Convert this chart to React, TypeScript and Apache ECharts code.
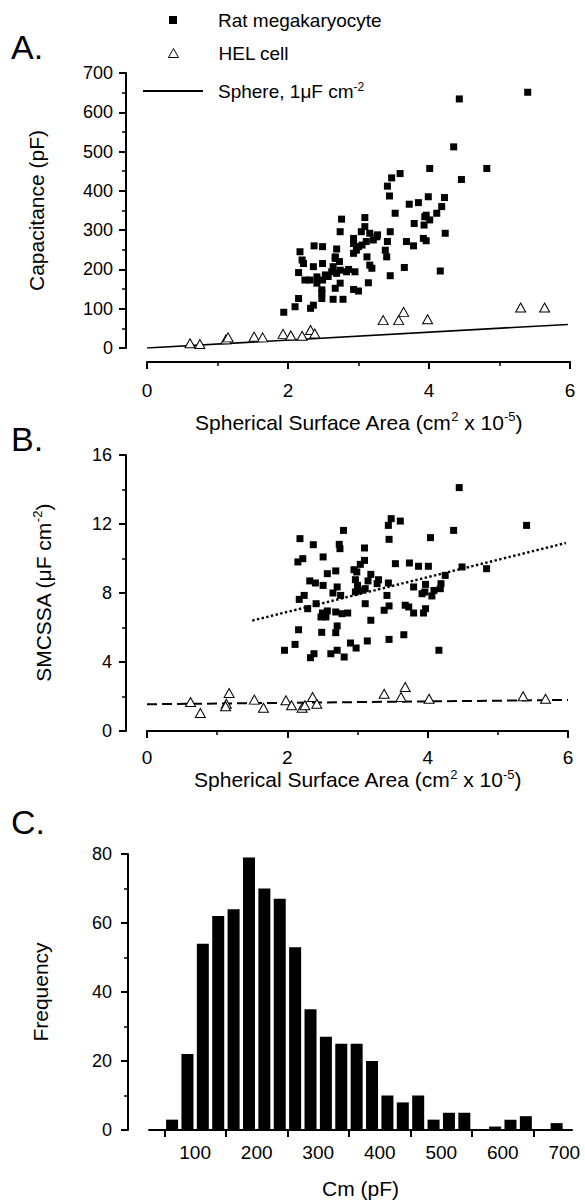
import React, { useEffect, useRef } from 'react';
import * as echarts from 'echarts';

const FONT = '"Liberation Sans", Arial, Helvetica, sans-serif';

// Panel A: spherical surface area (cm2 x 1e-5) vs capacitance (pF)
const ratA: number[][] = [
  [4.43, 634], [5.40, 651], [4.35, 512], [4.01, 457], [4.82, 457], [4.46, 429], [3.59, 444], [3.47, 433],
  [3.41, 412], [3.44, 387], [3.99, 385], [4.22, 383], [3.85, 370], [3.72, 366], [4.18, 360], [3.52, 343],
  [3.96, 338], [4.11, 343], [4.01, 326], [3.79, 317], [3.93, 313], [3.09, 332], [2.76, 328], [2.74, 296],
  [3.09, 309], [3.04, 296], [3.16, 292], [3.27, 288], [3.45, 296], [4.23, 292], [2.93, 279], [2.93, 266],
  [3.00, 258], [3.11, 271], [3.21, 275], [3.41, 271], [3.68, 271], [3.78, 260], [3.96, 273], [2.37, 260],
  [2.49, 258], [2.17, 245], [2.69, 252], [2.67, 228], [2.73, 220], [2.20, 224], [2.36, 207], [2.49, 215],
  [2.64, 207], [2.93, 241], [2.97, 249], [3.12, 232], [3.19, 203], [3.38, 249], [3.40, 232], [3.65, 205],
  [4.16, 196], [3.45, 184], [2.15, 192], [2.24, 173], [2.31, 173], [2.41, 165], [2.49, 173], [2.57, 182],
  [2.69, 190], [2.83, 194], [2.95, 194], [2.74, 165], [2.93, 149], [3.00, 145], [3.14, 166], [2.67, 152],
  [2.48, 148], [2.48, 126], [2.15, 126], [2.64, 124], [2.78, 124], [2.36, 109], [2.32, 101], [2.10, 105],
  [1.94, 91], [2.48, 139], [3.16, 211], [2.22, 215], [2.41, 181], [2.53, 186], [2.62, 194], [2.74, 198],
  [2.86, 200], [2.67, 232], [3.05, 262], [3.26, 283], [3.92, 279], [3.94, 334],
];
const helA: number[][] = [
  [0.61, 12], [0.75, 10], [1.12, 22], [1.15, 27], [1.52, 29], [1.64, 27], [1.93, 36], [2.04, 32],
  [2.20, 31], [2.32, 46], [2.38, 37], [3.35, 71], [3.57, 71], [3.64, 92], [3.98, 73], [5.30, 103], [5.64, 103],
];
const sphereLine: number[][] = [[0, 0], [5.97, 60]];

// Panel B: spherical surface area vs SMCSSA (uF cm-2)
const ratB: number[][] = [
  [2.18, 11.15], [2.37, 10.8], [2.8, 11.63], [2.74, 10.82], [2.75, 10.57], [2.22, 9.99], [2.15, 9.8], [2.51, 10.09],
  [2.57, 9.12], [2.69, 9.28], [2.32, 8.7], [2.4, 8.58], [2.51, 8.44], [2.71, 8.35], [2.65, 8.0], [2.76, 7.86],
  [2.24, 7.86], [2.17, 7.63], [2.29, 7.09], [2.41, 7.38], [2.5, 6.84], [2.57, 6.96], [2.69, 6.9], [2.78, 6.8],
  [2.48, 6.61], [2.55, 6.61], [2.16, 5.87], [2.49, 5.72], [2.69, 5.7], [2.71, 6.09], [2.11, 5.02], [1.96, 4.68],
  [2.38, 4.48], [2.33, 4.25], [2.62, 4.48], [2.71, 4.68], [2.81, 4.29], [2.86, 6.84], [2.95, 9.35], [2.99, 9.22],
  [3.1, 10.61], [3.1, 9.89], [3.04, 9.66], [2.97, 8.77], [3.0, 8.44], [3.19, 9.08], [3.3, 8.77], [3.28, 8.54],
  [3.44, 8.58], [3.15, 8.7], [2.97, 8.06], [3.04, 8.15], [3.11, 8.25], [3.42, 7.86], [3.11, 7.38], [3.45, 7.25],
  [3.38, 7.0], [3.19, 6.42], [3.14, 5.22], [2.9, 5.1], [2.98, 4.81], [3.45, 5.31], [3.66, 5.58], [4.16, 4.68],
  [3.68, 7.29], [3.73, 7.19], [3.8, 6.84], [3.97, 7.09], [3.94, 6.84], [3.8, 8.35], [3.97, 8.5], [3.96, 8.06],
  [4.09, 8.15], [4.18, 8.25], [4.19, 8.54], [4.25, 9.02], [4.06, 7.83], [3.92, 7.96], [3.54, 9.7], [3.74, 9.74],
  [3.87, 9.55], [4.01, 9.55], [4.49, 9.51], [4.84, 9.41], [3.45, 11.11], [4.04, 11.21], [4.37, 11.63], [3.48, 12.31],
  [3.61, 12.17], [3.44, 11.92], [4.45, 14.11], [5.41, 11.92],
];
const helB: number[][] = [
  [0.62, 1.68], [0.76, 1.04], [1.17, 2.2], [1.13, 1.58], [1.12, 1.43], [1.53, 1.82], [1.66, 1.35], [1.98, 1.78],
  [2.06, 1.49], [2.21, 1.35], [2.25, 1.49], [2.36, 1.97], [2.42, 1.58], [3.38, 2.16], [3.62, 1.97], [3.68, 2.55],
  [4.02, 1.87], [5.36, 2.01], [5.68, 1.87],
];
const ratFitB: number[][] = [[1.5, 6.4], [5.97, 10.9]];
const helFitB: number[][] = [[0, 1.55], [6, 1.8]];

// Panel C: histogram of Cm (pF)
const binCenters: number[] = [
  62.5, 87.5, 112.5, 137.5, 162.5, 187.5, 212.5, 237.5, 262.5, 287.5, 312.5, 337.5, 362.5,
  387.5, 412.5, 437.5, 462.5, 487.5, 512.5, 537.5, 562.5, 587.5, 612.5, 637.5, 662.5, 687.5,
];
const binCounts: number[] = [
  3, 22, 54, 62, 64, 79, 70, 67, 53, 35, 27, 25, 25, 20, 10, 8, 10, 3, 5, 5, 0, 1, 3, 4, 0, 2,
];
const cmLabelValues: number[] = [100, 200, 300, 400, 500, 600, 700];
const cmTickValues: number[] = [50, 150, 250, 350, 450, 550, 650];

const BLACK = '#000';

const supRich = {
  a: { fontSize: 21, fontFamily: FONT, color: BLACK, lineHeight: 24 },
  s: { fontSize: 13, fontFamily: FONT, color: BLACK, lineHeight: 13, verticalAlign: 'top' },
};

const xAreaName = '{a|Spherical Surface Area (cm}{s|2}{a| x 10}{s|-5}{a|)}';

function valueAxisBase() {
  return {
    type: 'value',
    axisLine: { show: true, onZero: false, lineStyle: { color: BLACK, width: 2 } },
    axisTick: { show: true, length: 7, lineStyle: { color: BLACK, width: 2 } },
    minorTick: { show: true, splitNumber: 2, length: 4, lineStyle: { color: BLACK, width: 1.5 } },
    splitLine: { show: false },
    minorSplitLine: { show: false },
    axisLabel: { color: BLACK, fontFamily: FONT, fontSize: 18 },
    nameLocation: 'middle',
    nameTextStyle: { color: BLACK, fontFamily: FONT, fontSize: 21, rich: supRich },
  };
}

const legendText = { a: { fontSize: 19, fontFamily: FONT, color: BLACK, lineHeight: 20 } };

export default function App() {
  const ref = useRef<HTMLDivElement>(null);
  useEffect(() => {
    if (!ref.current) return;
    const chart = echarts.init(ref.current, undefined, { renderer: 'svg' });
    const base = valueAxisBase();
    const option: any = {
      animation: false,
      backgroundColor: '#fff',
      textStyle: { fontFamily: FONT, color: BLACK },
      grid: [
        { left: 147, top: 73, width: 423, height: 275, containLabel: false },
        { left: 147, top: 455, width: 421, height: 276, containLabel: false },
        { left: 149, top: 854, width: 423, height: 276, containLabel: false },
      ],
      graphic: [
        { type: 'text', left: 11, top: 30, style: { text: 'A.', font: `34px ${FONT}`, fill: BLACK } },
        { type: 'text', left: 11, top: 422, style: { text: 'B.', font: `34px ${FONT}`, fill: BLACK } },
        { type: 'text', left: 11, top: 805, style: { text: 'C.', font: `34px ${FONT}`, fill: BLACK } },
      ],
      legend: [
        {
          data: ['Rat megakaryocyte'], left: 169, top: 10, padding: 0, selectedMode: false,
          itemWidth: 8, itemHeight: 8, icon: 'rect',
          itemStyle: { color: BLACK, opacity: 1 },
          formatter: (n: string) => `{a|${n}}`,
          textStyle: { padding: [0, 0, 0, 36], lineHeight: 20, rich: legendText },
        },
        {
          data: ['HEL cell'], left: 168, top: 43, padding: 0, selectedMode: false,
          itemWidth: 10, itemHeight: 9, icon: 'triangle',
          itemStyle: { color: '#fff', borderColor: BLACK, borderWidth: 1, opacity: 1 },
          formatter: (n: string) => `{a|${n}}`,
          textStyle: { padding: [0, 0, 0, 35], lineHeight: 20, rich: legendText },
        },
        {
          data: ['Sphere'], left: 143, top: 81, padding: 0, selectedMode: false,
          itemWidth: 60, itemHeight: 2, icon: 'rect',
          itemStyle: { color: BLACK, opacity: 1 },
          formatter: () => '{a|Sphere, 1μF cm}{s|-2}',
          textStyle: {
            padding: [0, 0, 0, 10], lineHeight: 20,
            rich: {
              a: { fontSize: 19, fontFamily: FONT, color: BLACK, lineHeight: 20 },
              s: { fontSize: 12, fontFamily: FONT, color: BLACK, lineHeight: 12, verticalAlign: 'top' },
            },
          },
        },
      ],
      xAxis: [
        {
          ...base, gridIndex: 0, min: 0, max: 6, interval: 2, offset: 14,
          axisLabel: { ...base.axisLabel, fontSize: 19, margin: 19 },
          name: xAreaName, nameGap: 48,
        },
        {
          ...base, gridIndex: 1, min: 0, max: 6, interval: 2, offset: 0,
          axisLabel: { ...base.axisLabel, fontSize: 19, margin: 17 },
          name: xAreaName, nameGap: 34,
        },
        {
          ...base, gridIndex: 2, min: 25, max: 712.5, offset: 0,
          minorTick: { show: false },
          axisTick: { show: true, length: 7, customValues: cmTickValues, lineStyle: { color: BLACK, width: 2 } },
          axisLabel: { ...base.axisLabel, fontSize: 19, margin: 13, customValues: cmLabelValues },
          name: '{a|Cm (pF)}', nameGap: 46,
        },
      ],
      yAxis: [
        {
          ...base, gridIndex: 0, min: 0, max: 700, interval: 100, offset: 21,
          axisLabel: { ...base.axisLabel, margin: 13 },
          name: '{a|Capacitance (pF)}', nameGap: 78,
        },
        {
          ...base, gridIndex: 1, min: 0, max: 16, interval: 4, offset: 21,
          axisLabel: { ...base.axisLabel, margin: 14 },
          name: '{a|SMCSSA (μF cm}{s|-2}{a|)}', nameGap: 71,
        },
        {
          ...base, gridIndex: 2, min: 0, max: 80, interval: 20, offset: 21,
          axisLabel: { ...base.axisLabel, margin: 16 },
          name: '{a|Frequency}', nameGap: 76,
        },
      ],
      series: [
        {
          name: 'Rat megakaryocyte', type: 'scatter', xAxisIndex: 0, yAxisIndex: 0,
          symbol: 'rect', symbolSize: 7, itemStyle: { color: BLACK, opacity: 1 }, data: ratA,
        },
        {
          name: 'HEL cell', type: 'scatter', xAxisIndex: 0, yAxisIndex: 0,
          symbol: 'triangle', symbolSize: [10, 9],
          itemStyle: { color: '#fff', borderColor: BLACK, borderWidth: 1, opacity: 1 },
          data: helA, z: 3,
        },
        {
          name: 'Sphere', type: 'line', xAxisIndex: 0, yAxisIndex: 0, symbol: 'none',
          lineStyle: { color: BLACK, width: 1.6 }, itemStyle: { color: BLACK }, data: sphereLine, z: 2,
        },
        {
          name: 'Rat megakaryocyte', type: 'scatter', xAxisIndex: 1, yAxisIndex: 1,
          symbol: 'rect', symbolSize: 7, itemStyle: { color: BLACK, opacity: 1 }, data: ratB,
        },
        {
          name: 'HEL cell', type: 'scatter', xAxisIndex: 1, yAxisIndex: 1,
          symbol: 'triangle', symbolSize: [10, 9],
          itemStyle: { color: '#fff', borderColor: BLACK, borderWidth: 1, opacity: 1 },
          data: helB, z: 3,
        },
        {
          name: 'Rat fit', type: 'line', xAxisIndex: 1, yAxisIndex: 1, symbol: 'none',
          lineStyle: { color: BLACK, width: 2.4, type: [2.4, 2.4] }, data: ratFitB, z: 4,
        },
        {
          name: 'HEL fit', type: 'line', xAxisIndex: 1, yAxisIndex: 1, symbol: 'none',
          lineStyle: { color: BLACK, width: 2, type: [10, 5] }, data: helFitB, z: 2,
        },
        {
          name: 'Cm', type: 'bar', xAxisIndex: 2, yAxisIndex: 2, barWidth: 12,
          itemStyle: { color: BLACK },
          data: binCenters.map((c, i) => [c, binCounts[i]]),
        },
      ],
    };
    chart.setOption(option);
    return () => chart.dispose();
  }, []);
  return (
    <div
      ref={ref}
      style={{ position: 'absolute', left: 0, top: 0, width: 585, height: 1201, background: '#fff' }}
    />
  );
}
